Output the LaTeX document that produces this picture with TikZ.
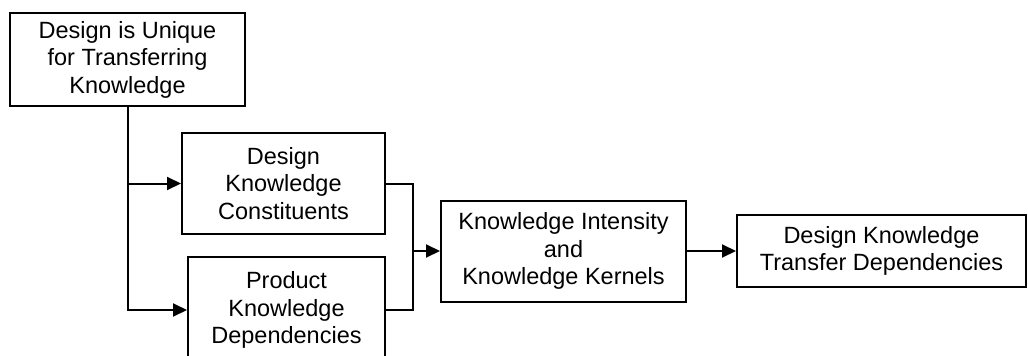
\documentclass[tikz,border=0pt]{standalone}
\usepackage{fontspec}
\setmainfont{Liberation Sans}
\usetikzlibrary{arrows.meta}
\begin{document}
\begin{tikzpicture}[x=1pt,y=-1pt,
  box/.style={draw=black, line width=2pt, rectangle, align=center,
    inner sep=0pt, font=\fontsize{23.5}{27.5}\selectfont},
  link/.style={draw=black, line width=2pt},
  arr/.style={link, -{Triangle[length=14pt,width=13pt]}}]
  \useasboundingbox (0,0) rectangle (1028,356);
  % process boxes
  \node[box, minimum width=235pt, minimum height=93pt] (b1) at (127.5,59.5)
    {Design is Unique\\for Transferring\\Knowledge};
  \node[box, minimum width=203pt, minimum height=101pt] (b2) at (283.5,183.5)
    {Design\\Knowledge\\Constituents};
  \node[box, minimum width=197pt, minimum height=106pt] (b3) at (286.5,310)
    {Product\\Knowledge\\Dependencies};
  \node[box, minimum width=245pt, minimum height=101pt] (b4) at (563.5,251)
    {Knowledge Intensity\\and\\Knowledge Kernels};
  \node[box, minimum width=289pt, minimum height=72pt] (b5) at (881.5,251)
    {Design Knowledge\\Transfer Dependencies};
  % branch and merge points
  \coordinate (m) at (413,251);
  % connectors
  \draw[arr] (b1.south) |- (b3.west);
  \draw[arr] (b1.south |- b2.west) -- (b2.west);
  \draw[link] (b2.east) -| (m);
  \draw[link] (b3.east) -| (m);
  \draw[arr] (m) -- (b4.west);
  \draw[arr] (b4.east) -- (b5.west);
\end{tikzpicture}
\end{document}
